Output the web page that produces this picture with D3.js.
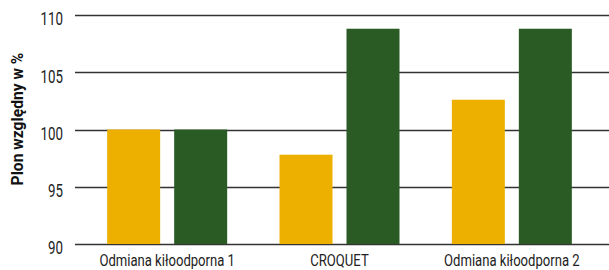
<!DOCTYPE html>
<html>
<head>
<meta charset="utf-8">
<script src="https://cdn.jsdelivr.net/npm/d3@7"></script>
<style>
body { margin: 0; background: #fff; }
text { font-family: Roboto, "DejaVu Sans Condensed", sans-serif; }
</style>
</head>
<body>
<script>
// dane
var kategorie = ["Odmiana kiłoodporna 1", "CROQUET", "Odmiana kiłoodporna 2"];
var seria1 = [100, 97.8, 102.6];
var seria2 = [100, 108.8, 108.8];
var ticksY = [90, 95, 100, 105, 110];
var kolory = ["#EDB000", "#2B5B25"];

var svgW = 609, svgH = 270;

var svg = d3.select("body").append("svg")
	.attr("width", svgW)
	.attr("height", svgH);

var xScale = d3.scaleBand()
	.domain(kategorie)
	.range([81, 598])
	.padding(0);

var yScale = d3.scaleLinear()
	.domain([90, 110])
	.range([244, 15]);

// siatka
svg.selectAll("line.grid")
	.data(ticksY)
	.enter()
	.append("line")
	.attr("class", "grid")
	.attr("x1", 75)
	.attr("x2", svgW)
	.attr("y1", function (d) { return Math.round(yScale(d)) + 0.5; })
	.attr("y2", function (d) { return Math.round(yScale(d)) + 0.5; })
	.attr("stroke", "#333")
	.attr("stroke-width", 1.3);

// etykiety osi Y
var yAxis = d3.axisLeft(yScale)
	.tickValues(ticksY)
	.tickSize(0)
	.tickPadding(0);

var gy = svg.append("g")
	.attr("transform", "translate(63,4)")
	.call(yAxis);
gy.select(".domain").remove();
gy.selectAll("text")
	.attr("x", 0)
	.attr("font-size", "18px")
	.attr("fill", "#222")
	.attr("transform", "scale(0.74,1)");

// słupki
var bw = 53;
var gap = 14;
var dane = [];
kategorie.forEach(function (k, i) {
	dane.push({ k: k, s: 0, v: seria1[i] });
	dane.push({ k: k, s: 1, v: seria2[i] });
});

svg.selectAll("rect.bar")
	.data(dane)
	.enter()
	.append("rect")
	.attr("class", "bar")
	.attr("x", function (d) {
		var c = xScale(d.k) + xScale.bandwidth() / 2;
		return d.s === 0 ? c - gap / 2 - bw : c + gap / 2;
	})
	.attr("width", bw)
	.attr("y", function (d) { return yScale(d.v); })
	.attr("height", function (d) { return yScale(90) - yScale(d.v); })
	.attr("fill", function (d) { return kolory[d.s]; });

// etykiety osi X
var xAxis = d3.axisBottom(xScale).tickSize(0).tickPadding(0);
var gx = svg.append("g")
	.attr("transform", "translate(0,266)")
	.call(xAxis);
gx.select(".domain").remove();
gx.selectAll("text")
	.attr("y", 0)
	.attr("dy", 0)
	.attr("font-size", "17px")
	.attr("fill", "#222")
	.attr("transform", "scale(0.77,1)");

// tytuł osi Y
svg.append("text")
	.attr("transform", "translate(23,119) rotate(-90) scale(0.92,1)")
	.attr("text-anchor", "middle")
	.attr("font-size", "17px")
	.attr("font-weight", "bold")
	.attr("fill", "#111")
	.text("Plon względny w %");
</script>
</body>
</html>
